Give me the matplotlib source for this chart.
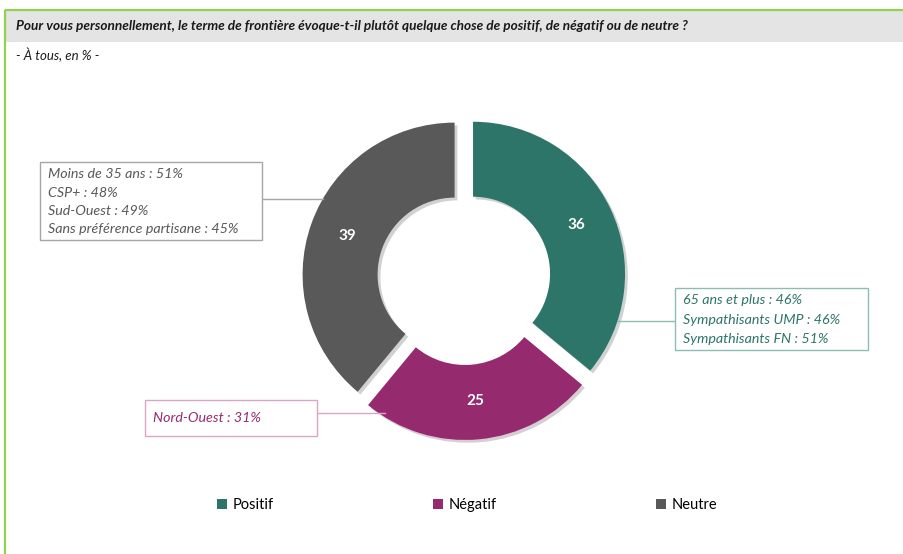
import matplotlib
matplotlib.use("Agg")
import matplotlib.pyplot as plt
from matplotlib.patches import Rectangle
import matplotlib.patheffects as pe

# ---- data ----
categories = ["Positif", "Négatif", "Neutre"]
values = [36, 25, 39]
colors = ["#2E7569", "#962A6E", "#595959"]
title = "Pour vous personnellement, le terme de frontière évoque-t-il plutôt quelque chose de positif, de négatif ou de neutre ?"
subtitle = "- À tous, en % -"
neutre_notes = ["Moins de 35 ans : 51%", "CSP+ : 48%", "Sud-Ouest : 49%", "Sans préférence partisane : 45%"]
positif_notes = ["65 ans et plus : 46%", "Sympathisants UMP : 46%", "Sympathisants FN : 51%"]
negatif_notes = ["Nord-Ouest : 31%"]

W, H = 904, 554
FONT = ["Lato", "DejaVu Sans"]
plt.rcParams['font.family'] = FONT

def Y(y):
    return H - y

fig = plt.figure(figsize=(W / 100, H / 100), dpi=100)
ax = fig.add_axes([0, 0, 1, 1])

# frame: green border top & left, grey title band
ax.add_patch(Rectangle((6, Y(42)), W - 6, 32, facecolor="#E4E4E4", edgecolor="none", zorder=0))
ax.plot([5, W], [Y(9.5), Y(9.5)], color="#92D050", lw=1.6, solid_capstyle='butt', zorder=1)
ax.plot([5, 5], [Y(9.5), 0], color="#92D050", lw=1.6, solid_capstyle='butt', zorder=1)
ax.text(16, Y(26), title, fontsize=9.85, style='italic', fontweight='bold', color="#1a1a1a", va='center', ha='left')
ax.text(16, Y(55), subtitle, fontsize=9.5, style='italic', color="#1a1a1a", va='center', ha='left')

# donut
R = 152
explode = [10] * 3
wedges, texts, autotexts = ax.pie(
    values, colors=colors, center=(464, Y(278)), radius=R, startangle=90,
    counterclock=False, explode=explode, autopct=lambda p: f"{p:.0f}", pctdistance=0.75,
    wedgeprops=dict(width=75, edgecolor='none'),
    textprops=dict(color='white', fontsize=11, fontweight='bold'), frame=True)
ax.set_xlim(0, W)
ax.set_ylim(0, H)
ax.set_aspect('equal')
ax.axis('off')
for w in wedges:
    w.set_path_effects([pe.SimplePatchShadow(offset=(2, -2), alpha=0.2), pe.Normal()])

# annotation boxes
def note_box(x0, y0, x1, y1, lines, color, edge, line_ys):
    ax.add_patch(Rectangle((x0, Y(y1)), x1 - x0, y1 - y0, facecolor='white', edgecolor=edge, lw=1, zorder=3))
    for t, yy in zip(lines, line_ys):
        ax.text(x0 + 8, Y(yy), t, fontsize=10.3, style='italic', color=color, va='center', ha='left', zorder=4)

note_box(40, 162, 262, 240, neutre_notes, "#595959", "#A6A6A6", [174, 193, 211, 229])
ax.plot([262, 323], [Y(199), Y(199)], color="#A6A6A6", lw=1, zorder=2)

note_box(675, 288, 868, 350, positif_notes, "#2E7569", "#8CBDB3", [300, 320, 339])
ax.plot([618, 675], [Y(321), Y(321)], color="#8CBDB3", lw=1, zorder=2)

note_box(145, 400, 317, 436, negatif_notes, "#962A6E", "#D9A6C6", [418])
ax.plot([317, 385], [Y(413), Y(413)], color="#D9A6C6", lw=1, zorder=2)

# legend
leg = ax.legend(wedges, categories, loc='center', bbox_to_anchor=(467 / W, 1 - 505 / H),
                ncol=3, frameon=False, fontsize=10.5, handlelength=0.7, handleheight=0.7,
                handletextpad=0.4, columnspacing=10.9)
for h in leg.legend_handles:
    h.set_path_effects([])

fig.savefig("out.png", dpi=100)
